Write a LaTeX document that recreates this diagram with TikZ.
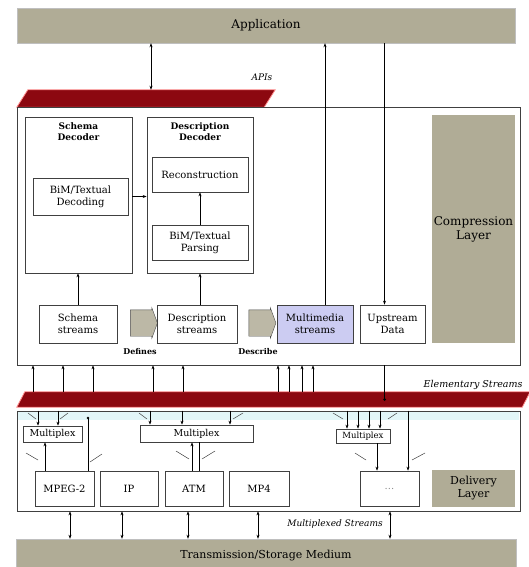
\documentclass[tikz,border=0pt]{standalone}
\usepackage{fontspec}
\setmainfont{DejaVu Serif}
\usetikzlibrary{arrows.meta, positioning, shapes.arrows}
\definecolor{layertan}{RGB}{176,172,150}
\definecolor{apired}{RGB}{140,8,16}
\definecolor{mmblue}{RGB}{204,204,242}
\definecolor{striptint}{RGB}{226,246,248}
\tikzset{
  font=\fontsize{10}{12}\selectfont,            % serif text everywhere
  box/.style        = {rectangle, draw=black!75, line width=0.7pt,
                       inner sep=1pt, align=center},
  layer/.style      = {rectangle, fill=layertan, inner sep=2pt, align=center},
  bar/.style        = {rectangle, inner sep=0pt},
  barfill/.style    = {fill=apired, draw=red!45, line width=0.8pt},
  flow/.style       = {single arrow, draw=black!70, fill=layertan!85,
                       single arrow head extend=2pt, single arrow tip angle=140,
                       inner xsep=0pt, inner ysep=13pt, minimum height=27pt},
  link/.style       = {->, >={Stealth[length=4pt,width=3pt]}, line width=0.6pt},
  twoway/.style     = {<->, >={Stealth[length=4pt,width=3pt]}, line width=0.6pt},
  fork/.style       = {line width=0.5pt, black!75},
  small/.style      = {font=\fontsize{9.5}{11}\selectfont},
  tag/.style        = {font=\fontsize{9}{10}\selectfont\itshape},
  title/.style      = {font=\fontsize{9}{10.5}\selectfont\bfseries,
                       align=center, inner sep=0pt}
}

\begin{document}
\begin{tikzpicture}[x=1pt, y=-1pt]
  \useasboundingbox (0,0) rectangle (528,567);

  % application and medium
  \node[layer, draw=black!25, minimum width=498pt, minimum height=35pt,
        font=\fontsize{12}{14}\selectfont] (app) at (266,25.5) {Application};
  \node[layer, draw=black!25, minimum width=500pt, minimum height=34pt,
        font=\fontsize{11}{13}\selectfont] (medium) at (266,556) {Transmission/Storage Medium};

  % APIs bar
  \node[bar, minimum width=258pt, minimum height=17pt] (apibar) at (146,98.5) {};
  \fill[barfill] (apibar.south west) -- ([xshift=11pt]apibar.north west)
    -- (apibar.north east) -- ([xshift=-11pt]apibar.south east) -- cycle;
  \node[tag] (apis) at (262,77) {APIs};

  % compression layer
  \node[box, minimum width=503pt, minimum height=258pt] (compr) at (268.5,236) {};
  \node[layer, minimum width=83pt, minimum height=228pt,
        font=\fontsize{12}{14}\selectfont] (compl) at (473.5,229) {Compression\\Layer};

  \node[box, minimum width=107pt, minimum height=156pt] (schdec) at (78.5,195) {};
  \node[title, below=6pt of schdec.north] (schtitle) {Schema\\Decoder};
  \node[box, minimum width=95pt, minimum height=37pt] (bimdec) at (80.5,196.5) {BiM/Textual\\Decoding};

  \node[box, minimum width=106pt, minimum height=156pt] (descdec) at (200,195) {};
  \node[title, below=6pt of descdec.north] (desctitle) {Description\\Decoder};
  \node[box, minimum width=96pt, minimum height=35pt] (recon) at (200,174.5) {Reconstruction};
  \node[box, minimum width=96pt, minimum height=35pt] (bimpar) at (200,242.5) {BiM/Textual\\Parsing};
  \draw[link] (bimpar) -- (recon);
  \draw[link] (schdec.east |- bimdec) -- (descdec.west |- bimdec);

  \node[box, minimum width=78pt, minimum height=38pt] (schstr) at (78,324) {Schema\\streams};
  \node[flow] (defarr) at (141.5,323) {};
  \node[box, minimum width=80pt, minimum height=38pt] (descstr) at (197,324) {Description\\streams};
  \node[flow] (desarr) at (260,323) {};
  \node[box, fill=mmblue, minimum width=76pt, minimum height=38pt] (mmstr) at (315,324) {Multimedia\\streams};
  \node[box, minimum width=65pt, minimum height=38pt] (upstr) at (392.5,324) {Upstream\\Data};
  \node[title, font=\fontsize{8}{9}\selectfont\bfseries] (defines) at (140,352) {Defines};
  \node[title, font=\fontsize{8}{9}\selectfont\bfseries] (describe) at (258,352) {Describe};

  \draw[link] (schstr.north) -- (schstr.north |- schdec.south);
  \draw[link] ([xshift=3pt]descstr.north) -- ([xshift=3pt]descstr.north |- descdec.south);
  \draw[twoway] (151,0 |- app.south) -- (151,0 |- apibar.north);
  \draw[link] ([xshift=10pt]mmstr.north) -- ([xshift=10pt]mmstr.north |- app.south);
  \draw[link] ([xshift=-8pt]upstr.north |- app.south) -- ([xshift=-8pt]upstr.north);

  % elementary streams
  \node[bar, minimum width=513pt, minimum height=15pt] (ebar) at (273.5,399.5) {};
  \fill[barfill] (ebar.south west) -- ([xshift=8pt]ebar.north west)
    -- (ebar.north east) -- ([xshift=-8pt]ebar.south east) -- cycle;
  \node[tag, font=\fontsize{9.5}{11}\selectfont\itshape, anchor=east] (estr) at (526,385) {Elementary Streams};
  \foreach \x in {33,63,93,153,183,278,289,302,313}
    \draw[link] (\x,0 |- ebar.north) -- (\x,0 |- compr.south);
  \draw[line width=0.6pt] ([xshift=-8pt]upstr.south |- compr.south) -- ([xshift=-8pt]upstr.south |- ebar.center);
  \fill ([xshift=-8pt]upstr.south |- ebar.center) circle (1.5pt);

  % delivery layer
  \node[box, minimum width=503pt, minimum height=100pt] (deliv) at (268.5,461) {};
  \fill[striptint] ([shift={(1pt,-1pt)}]deliv.north west) rectangle ([shift={(-1pt,-9pt)}]deliv.north east);
  \node[layer, minimum width=83pt, minimum height=37pt,
        font=\fontsize{11}{13}\selectfont] (dell) at (473.5,488.5) {Delivery\\Layer};

  \node[box, small, minimum width=59pt, minimum height=16pt] (mux1) at (52.5,434) {Multiplex};
  \node[box, small, minimum width=113pt, minimum height=17pt] (mux2) at (196.5,433.5) {Multiplex};
  \node[box, small, font=\fontsize{8.5}{9}\selectfont, minimum width=54pt, minimum height=14pt] (mux3) at (363,436) {Multiplex};

  \node[box, minimum width=59pt, minimum height=35pt] (mpeg) at (64.5,488.5) {MPEG-2};
  \node[box, minimum width=58pt, minimum height=35pt] (ip) at (129,488.5) {IP};
  \node[box, minimum width=58pt, minimum height=35pt] (atm) at (194,488.5) {ATM};
  \node[box, minimum width=60pt, minimum height=35pt] (mpfour) at (259,488.5) {MP4};
  \node[box, text=black!45, minimum width=59pt, minimum height=35pt] (other) at (389.5,488.5) {...};

  % multiplex links
  \foreach \x in {38,58}
    \draw[link] (\x,0 |- deliv.north) -- (\x,0 |- mux1.north);
  \draw[fork] (28,413) -- (36,419) (60,419) -- (68,413);
  \draw[link] (45,0 |- mpeg.north) -- (45,0 |- mux1.south);
  \draw[fork] (26,453) -- (38,460);
  \draw[line width=0.6pt] (88,0 |- mpeg.north) -- (88,418);
  \fill (88,418) circle (1.3pt);
  \draw[fork] (90,462) -- (102,454);

  \foreach \x in {150,182,230}
    \draw[link] (\x,0 |- deliv.north) -- (\x,0 |- mux2.north);
  \draw[fork] (139,413) -- (147,419) (233,419) -- (243,413);
  \draw[link] (192,0 |- atm.north) -- (192,0 |- mux2.south);
  \draw[line width=0.6pt] (199,0 |- atm.north) -- (199,0 |- mux2.south);
  \draw[fork] (176,451) -- (189,459) (202,459) -- (215,451);

  \foreach \x in {347,358,369,380}
    \draw[link] (\x,0 |- deliv.north) -- (\x,0 |- mux3.north);
  \draw[fork] (333,413) -- (343,419) (388,419) -- (397,413);
  \draw[link] (377,0 |- mux3.south) -- (377,0 |- other.north);
  \draw[link] (408,0 |- deliv.north) -- (408,0 |- other.north);
  \draw[fork] (355,453) -- (366,460) (412,460) -- (425,453);

  % multiplexed streams
  \foreach \x in {70,122,188,258,390}
    \draw[twoway] (\x,0 |- deliv.south) -- (\x,0 |- medium.north);
  \node[tag] (mstr) at (335,524) {Multiplexed Streams};
\end{tikzpicture}
\end{document}
